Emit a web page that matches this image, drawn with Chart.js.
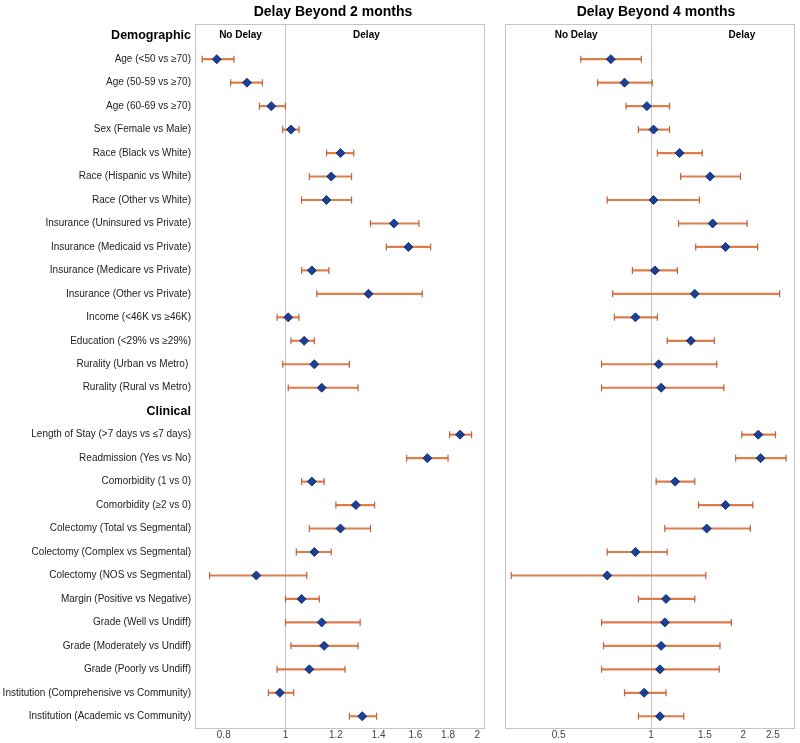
<!DOCTYPE html>
<html>
<head>
<meta charset="utf-8">
<script src="https://cdn.jsdelivr.net/npm/chart.js@4.4.1/dist/chart.umd.min.js"></script>
<style>
    html, body { margin: 0; padding: 0; background: #fff; }
    #wrap { position: relative; width: 800px; height: 743px; }
    #c2 { position: absolute; left: 0; top: 0; }
    #c4 { position: absolute; left: 495px; top: 0; }
</style>
</head>
<body>
<div id="wrap">
    <canvas id="c2" width="490" height="743"></canvas>
    <canvas id="c4" width="305" height="743"></canvas>
</div>
<script>
    "use strict";

    // Rows (headers have no values)
    var rowLabels = [
        'Demographic',
        'Age (<50 vs ≥70)',
        'Age (50-59 vs ≥70)',
        'Age (60-69 vs ≥70)',
        'Sex (Female vs Male)',
        'Race (Black vs White)',
        'Race (Hispanic vs White)',
        'Race (Other vs White)',
        'Insurance (Uninsured vs Private)',
        'Insurance (Medicaid vs Private)',
        'Insurance (Medicare vs Private)',
        'Insurance (Other vs Private)',
        'Income (<46K vs ≥46K)',
        'Education (<29% vs ≥29%)',
        'Rurality (Urban vs Metro) ',
        'Rurality (Rural vs Metro)',
        'Clinical',
        'Length of Stay (>7 days vs ≤7 days)',
        'Readmission (Yes vs No)',
        'Comorbidity (1 vs 0)',
        'Comorbidity (≥2 vs 0)',
        'Colectomy (Total vs Segmental)',
        'Colectomy (Complex vs Segmental)',
        'Colectomy (NOS vs Segmental)',
        'Margin (Positive vs Negative)',
        'Grade (Well vs Undiff)',
        'Grade (Moderately vs Undiff)',
        'Grade (Poorly vs Undiff)',
        'Institution (Comprehensive vs Community)',
        'Institution (Academic vs Community)'
    ];
    var headerRows = [0, 16];

    // Delay beyond 2 months
    var est2 = [null, 0.78, 0.87, 0.95, 1.02, 1.22, 1.18, 1.16, 1.48, 1.56, 1.10, 1.35, 1.01, 1.07, 1.11, 1.14,
                null, 1.88, 1.67, 1.10, 1.29, 1.22, 1.11, 0.90, 1.06, 1.14, 1.15, 1.09, 0.98, 1.32];
    var lo2  = [null, 0.74, 0.82, 0.91, 0.99, 1.16, 1.09, 1.06, 1.36, 1.44, 1.06, 1.12, 0.97, 1.02, 0.99, 1.01,
                null, 1.81, 1.55, 1.06, 1.20, 1.09, 1.04, 0.76, 1.00, 1.00, 1.02, 0.97, 0.94, 1.26];
    var hi2  = [null, 0.83, 0.92, 1.00, 1.05, 1.28, 1.27, 1.27, 1.62, 1.69, 1.17, 1.64, 1.05, 1.11, 1.26, 1.30,
                null, 1.96, 1.80, 1.15, 1.38, 1.36, 1.18, 1.08, 1.13, 1.31, 1.30, 1.24, 1.03, 1.39];

    // Delay beyond 4 months
    var est4 = [null, 0.74, 0.82, 0.97, 1.02, 1.24, 1.56, 1.02, 1.59, 1.75, 1.03, 1.39, 0.89, 1.35, 1.06, 1.08,
                null, 2.24, 2.28, 1.20, 1.75, 1.52, 0.89, 0.72, 1.12, 1.11, 1.08, 1.07, 0.95, 1.07];
    var lo4  = [null, 0.59, 0.67, 0.83, 0.91, 1.05, 1.25, 0.72, 1.23, 1.40, 0.87, 0.75, 0.76, 1.13, 0.69, 0.69,
                null, 1.98, 1.89, 1.04, 1.43, 1.11, 0.72, 0.35, 0.91, 0.69, 0.70, 0.69, 0.82, 0.91];
    var hi4  = [null, 0.93, 1.01, 1.15, 1.15, 1.47, 1.96, 1.44, 2.06, 2.23, 1.22, 2.63, 1.05, 1.61, 1.64, 1.73,
                null, 2.55, 2.76, 1.39, 2.15, 2.11, 1.13, 1.51, 1.39, 1.83, 1.68, 1.67, 1.12, 1.28];

    // Axis ticks
    var ticks2 = [0.8, 1, 1.2, 1.4, 1.6, 1.8, 2];
    var ticks4 = [0.5, 1, 1.5, 2, 2.5];

    Chart.defaults.font.family = "'Liberation Sans', Arial, sans-serif";

    var CI_COLOR = '#dc7d4c';
    var CAP_COLOR = '#c2623c';
    var DOT_COLOR = '#1d3f94';

    // Panel box, reference line, titles and side labels
    var panelDeco = {
        id: 'panelDeco',
        beforeDatasetsDraw: function (chart) {
            var a = chart.chartArea, ctx = chart.ctx;
            var rx = Math.round(chart.scales.x.getPixelForValue(1)) + 0.5;
            ctx.save();
            ctx.strokeStyle = '#c4c4c4';
            ctx.lineWidth = 1;
            ctx.strokeRect(Math.round(a.left) + 0.5, Math.round(a.top) + 0.5,
                Math.round(a.right - a.left), Math.round(a.bottom - a.top));
            ctx.beginPath();
            ctx.moveTo(rx, a.top);
            ctx.lineTo(rx, a.bottom);
            ctx.stroke();
            ctx.restore();
        },
        afterDraw: function (chart, args, opts) {
            var ctx = chart.ctx, x = chart.scales.x, y = chart.scales.y;
            var ty = y.getPixelForValue(0);
            ctx.save();
            ctx.fillStyle = '#000';
            ctx.textAlign = 'center';
            ctx.textBaseline = 'middle';
            ctx.font = "bold 14px 'Liberation Sans', Arial, sans-serif";
            ctx.fillText(opts.title, opts.titleX, 12);
            ctx.font = "bold 10px 'Liberation Sans', Arial, sans-serif";
            ctx.fillText('No Delay', x.getPixelForValue(opts.noDelayAt), ty);
            ctx.fillText('Delay', x.getPixelForValue(opts.delayAt), ty);
            ctx.restore();
        }
    };

    function makePanel(id, est, lo, hi, tickVals, xmin, xmax, o) {
        var ranges = lo.map(function (v, i) {
            return v == null ? null : [v, hi[i]];
        });
        var capStyle = {
            type: 'line',
            indexAxis: 'y',
            showLine: false,
            pointStyle: 'line',
            rotation: 90,
            pointRadius: 3.5,
            pointBorderWidth: 1.2,
            borderColor: CAP_COLOR,
            order: 1
        };
        return new Chart(document.getElementById(id), {
            type: 'bar',
            data: {
                labels: rowLabels,
                datasets: [
                    {
                        type: 'line',
                        indexAxis: 'y',
                        data: est,
                        showLine: false,
                        pointStyle: 'rectRot',
                        pointRadius: 4.5,
                        pointBorderWidth: 1,
                        pointBackgroundColor: DOT_COLOR,
                        pointBorderColor: '#14327e',
                        order: 0
                    },
                    Object.assign({ data: lo }, capStyle),
                    Object.assign({ data: hi }, capStyle),
                    {
                        type: 'bar',
                        data: ranges,
                        barThickness: 1.5,
                        backgroundColor: CI_COLOR,
                        borderWidth: 0,
                        order: 2
                    }
                ]
            },
            options: {
                indexAxis: 'y',
                responsive: false,
                animation: false,
                layout: { padding: { top: 24, bottom: 0, left: o.padLeft, right: o.padRight } },
                plugins: {
                    legend: { display: false },
                    tooltip: { enabled: false },
                    panelDeco: o.deco
                },
                scales: {
                    x: {
                        type: 'logarithmic',
                        min: xmin,
                        max: xmax,
                        bounds: 'data',
                        grid: { display: false, drawTicks: false },
                        border: { display: false },
                        ticks: {
                            padding: 1,
                            color: '#444',
                            font: { size: 10 },
                            autoSkip: false,
                            maxRotation: 0,
                            callback: function (v) { return String(v); }
                        },
                        afterBuildTicks: function (s) {
                            s.ticks = tickVals.map(function (v) { return { value: v }; });
                        },
                        afterFit: function (s) { s.height = 15; }
                    },
                    y: {
                        display: o.showLabels,
                        grid: { display: false, drawTicks: false },
                        border: { display: false },
                        ticks: {
                            autoSkip: false,
                            padding: 4,
                            color: function (c) { return headerRows.indexOf(c.index) >= 0 ? '#000' : '#222'; },
                            font: function (c) {
                                return headerRows.indexOf(c.index) >= 0 ?
                                    { size: 12.5, weight: 'bold' } : { size: 10 };
                            }
                        },
                        afterFit: function (s) { s.width = o.showLabels ? 195 : 0; }
                    }
                }
            },
            plugins: [panelDeco]
        });
    }

    makePanel('c2', est2, lo2, hi2, ticks2, 0.721, 2.05, {
        padLeft: 0, padRight: 6, showLabels: true,
        deco: { title: 'Delay Beyond 2 months', titleX: 333, noDelayAt: 0.85, delayAt: 1.34 }
    });

    makePanel('c4', est4, lo4, hi4, ticks4, 0.334, 2.93, {
        padLeft: 10, padRight: 6, showLabels: false,
        deco: { title: 'Delay Beyond 4 months', titleX: 161, noDelayAt: 0.57, delayAt: 1.98 }
    });
</script>
</body>
</html>
